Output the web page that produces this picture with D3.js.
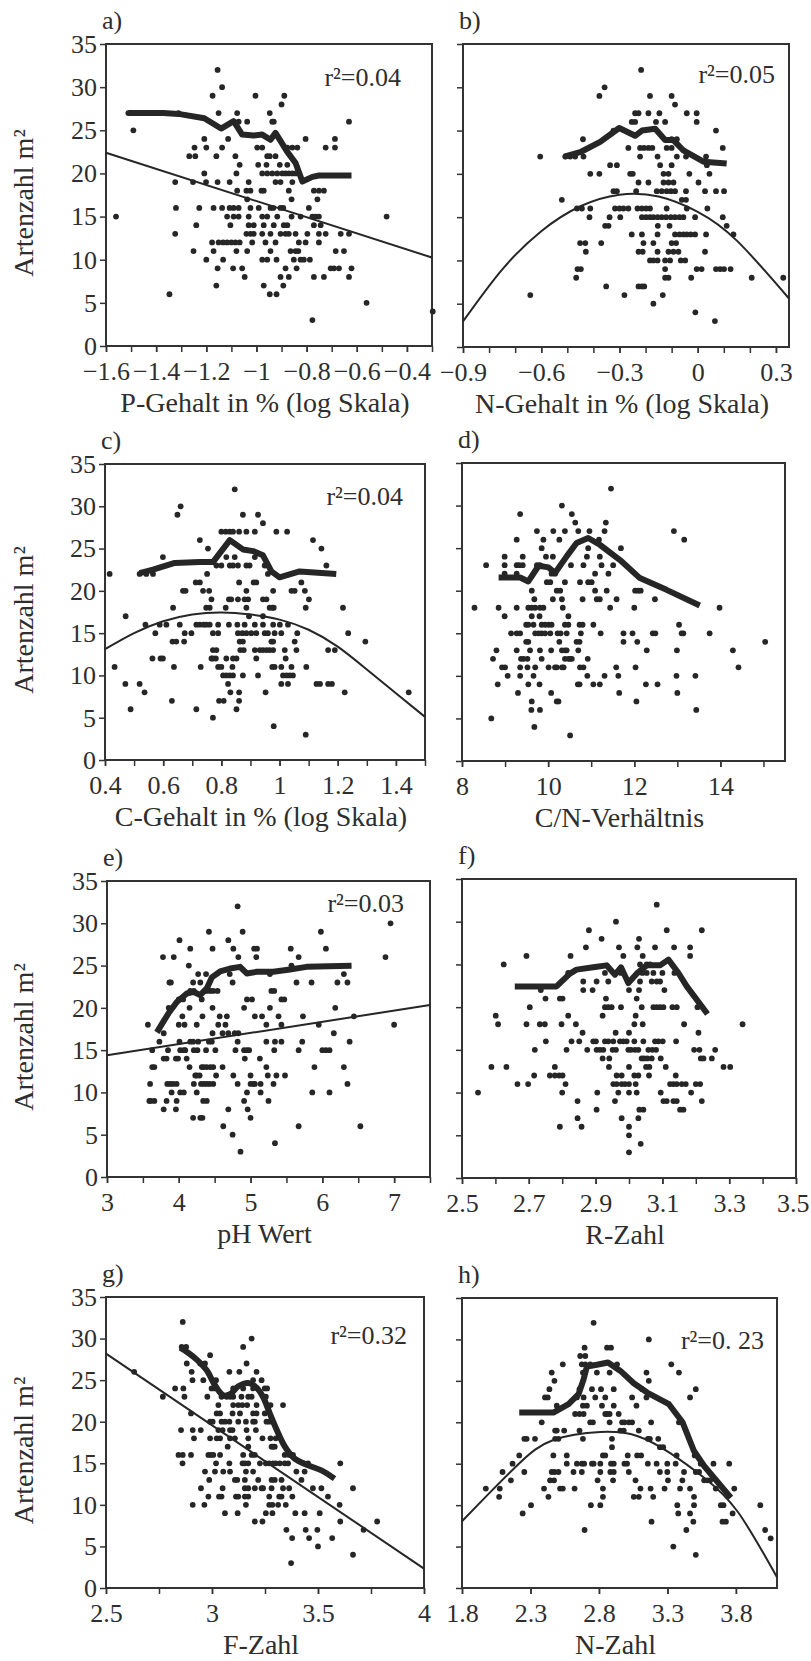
<!DOCTYPE html>
<html>
<head>
<meta charset="utf-8">
<script src="https://cdn.jsdelivr.net/npm/d3@7"></script>
<style>
  body { margin: 0; background: #fff; }
  svg { display: block; }
  text { font-family: "Liberation Serif", "DejaVu Serif", serif; fill: #2e2e2e; }
</style>
</head>
<body>
<svg id="chart" width="811" height="1661"></svg>
<script>
// each row: [Artenzahl, [x values]]
const aRows = [
  [32, [-1.155]], [30, [-1.137]], [29, [-1.175, -1.004, -0.889]], [28, [-0.9]],
  [27, [-1.511, -1.371, -1.311, -1.151, -1.077, -0.947]],
  [26, [-1.071, -1.037, -0.937, -0.931, -0.631]], [25, [-1.491]],
  [24, [-1.208, -1.113, -0.804, -0.687]],
  [23, [-1.247, -1.2, -1.137, -0.997, -0.977, -0.877, -0.857, -0.837, -0.724, -0.687]],
  [22, [-1.268, -1.244, -1.16, -1.084, -0.957, -0.947, -0.924]],
  [21, [-1.067, -0.993, -0.96, -0.907, -0.877]],
  [20, [-1.208, -1.08, -0.977, -0.957, -0.937, -0.917, -0.897, -0.884, -0.871, -0.857, -0.844]],
  [19, [-1.324, -1.253, -1.201, -1.155, -1.107, -1.031, -0.924, -0.904, -0.857]],
  [18, [-1.077, -1.04, -1.024, -0.98, -0.971, -0.871, -0.771, -0.751, -0.731]],
  [17, [-1.037, -0.86, -0.757]],
  [16, [-1.321, -1.228, -1.171, -1.137, -1.107, -1.091, -1.071, -1.024, -0.991, -0.944, -0.933, -0.904, -0.893, -0.791]],
  [15, [-1.56, -1.117, -1.091, -1.071, -1.031, -0.977, -0.957, -0.917, -0.86, -0.824, -0.777, -0.764, -0.751, -0.481]],
  [14, [-1.24, -1.104, -1.031, -1.011, -0.971, -0.931, -0.891, -0.877, -0.771, -0.744]],
  [13, [-1.324, -1.04, -1.024, -1.011, -0.977, -0.944, -0.904, -0.884, -0.871, -0.844, -0.797, -0.751, -0.724, -0.664, -0.631]],
  [12, [-1.177, -1.151, -1.133, -1.117, -1.1, -1.084, -1.067, -1.017, -0.964, -0.924, -0.831, -0.804, -0.751]],
  [11, [-1.251, -1.171, -1.08, -1.037, -0.944, -0.864, -0.844, -0.833, -0.684, -0.651]],
  [10, [-1.2, -1.133, -0.977, -0.957, -0.92, -0.851, -0.824, -0.811, -0.787]],
  [9, [-1.155, -1.093, -1.057, -0.884, -0.84, -0.704, -0.691, -0.671, -0.621]],
  [8, [-1.047, -0.904, -0.871, -0.771, -0.731, -0.631]],
  [7, [-1.16, -0.971, -0.893]], [6, [-1.347, -0.947, -0.92]],
  [5, [-0.561]], [4, [-0.297]], [3, [-0.777]]
]
const aSmooth = [[-1.511, 27], [-1.371, 27], [-1.311, 26.9], [-1.208, 26.4], [-1.141, 25.2], [-1.091, 26.06],
  [-1.057, 24.5], [-1.011, 24.4], [-0.977, 24.5], [-0.944, 23.9], [-0.924, 24.7], [-0.877, 22.5],
  [-0.844, 21.2], [-0.817, 19.06], [-0.777, 19.6], [-0.751, 19.76], [-0.621, 19.76]]
const aFit = [[-1.6, 22.4], [-0.3, 10.25]]

const bRows = [
  [32, [-0.217]], [30, [-0.357]], [29, [-0.377, -0.183, -0.1]], [28, [-0.087]],
  [27, [-0.24, -0.227, -0.189, -0.147, -0.042, -0.004]],
  [26, [-0.253, -0.24, -0.16, -0.125, -0.004]], [25, [-0.323, 0.07]], [24, [-0.44, -0.1, -0.08]],
  [23, [-0.266, -0.221, -0.206, -0.189, -0.174, -0.119, -0.1, 0.096]],
  [22, [-0.604, -0.508, -0.489, -0.47, -0.438, -0.221, -0.154, -0.08, -0.045, 0.032]],
  [21, [-0.336, -0.31, -0.144, -0.1, 0.035]],
  [20, [-0.412, -0.377, -0.259, -0.249, -0.131, -0.112, -0.032, 0.045]],
  [19, [-0.227, -0.189, -0.131, -0.112, -0.093, 0.003]],
  [18, [-0.323, -0.31, -0.236, -0.157, -0.138, -0.119, -0.103, -0.087, -0.045, 0.028, 0.07, 0.101]],
  [17, [-0.521, -0.061, -0.045]],
  [16, [-0.463, -0.444, -0.412, -0.317, -0.3, -0.285, -0.266, -0.231, -0.214, -0.198, -0.183, -0.119, -0.042, 0.037]],
  [15, [-0.415, -0.338, -0.297, -0.214, -0.198, -0.183, -0.17, -0.154, -0.138, -0.121, -0.103, -0.087, -0.07, -0.055, -0.01, 0.096]],
  [14, [-0.355, -0.342, -0.153, -0.108, 0.111]],
  [13, [-0.253, -0.214, -0.154, -0.087, -0.07, -0.055, -0.042, -0.027, -0.01, 0.032, 0.137]],
  [12, [-0.451, -0.431, -0.37, -0.208, -0.17, -0.1, -0.083]],
  [11, [-0.429, -0.227, -0.211, -0.154, -0.112, -0.093, -0.074, 0.028]],
  [10, [-0.183, -0.17, -0.154, -0.125, -0.106, -0.065, -0.048]],
  [9, [-0.461, -0.448, -0.125, -0.004, 0.015, 0.07, 0.086, 0.101, 0.126]],
  [8, [-0.466, -0.125, -0.112, -0.025, 0.207, 0.328]],
  [7, [-0.351, -0.227, -0.214, -0.205]], [6, [-0.642, -0.281, -0.134]],
  [5, [-0.17]], [4, [-0.009]], [3, [0.066]]
]
const bSmooth = [[-0.512, 22.0], [-0.451, 22.5], [-0.374, 23.7], [-0.301, 25.3], [-0.24, 24.4], [-0.214, 25.0],
  [-0.163, 25.2], [-0.125, 23.9], [-0.093, 23.9], [-0.055, 22.7], [0.022, 21.4], [0.111, 21.2]]
const bFit = [[-0.9, 2.95], [-0.75, 8.94], [-0.6, 13.38], [-0.45, 16.26], [-0.3, 17.6], [-0.15, 17.38],
  [0, 15.61], [0.15, 12.29], [0.35, 5.6]]

const cRows = [
  [32, [0.846]], [30, [0.66]], [29, [0.649, 0.874, 0.926]], [28, [0.943]],
  [27, [0.8, 0.815, 0.829, 0.84, 0.861, 0.886, 0.915, 0.989, 1.026]],
  [26, [0.726, 1.115]], [25, [0.754, 1.144]], [24, [0.599, 0.817, 0.846, 0.915]],
  [23, [0.783, 0.8, 0.829, 0.84, 0.857, 0.886, 0.897, 0.949, 1.161]],
  [22, [0.416, 0.519, 0.542, 0.565, 0.751, 0.96]],
  [21, [0.712, 0.726, 0.861, 0.911, 0.92, 1.075]],
  [20, [0.668, 0.677, 0.737, 0.758, 0.886, 0.978, 1.041, 1.052, 1.087]],
  [19, [0.766, 0.826, 0.834, 0.857, 0.88, 0.892, 0.943, 0.955, 1.101]],
  [18, [0.634, 0.748, 0.76, 0.815, 0.886, 0.966, 0.975, 0.98, 1.09, 1.218]],
  [17, [0.471, 0.895, 0.943]],
  [16, [0.539, 0.588, 0.611, 0.657, 0.714, 0.726, 0.739, 0.748, 0.76, 0.789, 0.826, 0.855, 0.88, 0.915, 0.943, 0.978, 1.001, 1.029]],
  [15, [0.573, 0.674, 0.697, 0.771, 0.789, 0.857, 0.872, 0.886, 0.903, 0.92, 0.949, 0.96, 0.983, 1.006, 1.061, 1.236]],
  [14, [0.632, 0.645, 0.672, 0.863, 0.874, 0.972, 0.978, 1.052, 1.295]],
  [13, [0.771, 0.783, 0.865, 0.877, 0.915, 0.932, 0.943, 0.955, 0.966, 0.978, 1.018, 1.058, 1.167, 1.19]],
  [12, [0.563, 0.591, 0.599, 0.766, 0.771, 0.781, 0.817, 0.84, 0.852, 0.92, 1.021]],
  [11, [0.433, 0.637, 0.729, 0.789, 0.8, 0.838, 0.975, 0.983, 1.006, 1.041, 1.092]],
  [10, [0.806, 0.817, 0.829, 0.84, 0.874, 0.926, 1.012, 1.024, 1.035, 1.046]],
  [9, [0.47, 0.519, 0.823, 1.006, 1.029, 1.127, 1.139, 1.167, 1.18]],
  [8, [0.536, 0.831, 0.861, 0.952, 1.224, 1.444]],
  [7, [0.63, 0.792, 0.808, 0.861]], [6, [0.488, 0.714, 0.852]],
  [5, [0.771]], [4, [0.98]], [3, [1.09]]
]
const cSmooth = [[0.519, 22.1], [0.565, 22.5], [0.64, 23.3], [0.726, 23.4], [0.771, 23.4], [0.829, 26.0],
  [0.874, 24.9], [0.909, 24.7], [0.943, 24.2], [0.972, 22.3], [1.0, 21.6], [1.069, 22.3], [1.195, 22.0]]
const cFit = [[0.4, 13.1], [0.5, 15.0], [0.6, 16.4], [0.7, 17.2], [0.8, 17.44], [0.9, 17.2], [1.0, 16.6],
  [1.1, 15.4], [1.2, 13.4], [1.3, 10.7], [1.4, 7.9], [1.5, 5.1]]

const dRows = [
  [32, [11.46]], [30, [10.32]], [29, [9.35, 10.55]], [28, [10.63, 11.34]],
  [27, [9.74, 10.12, 10.39, 10.7, 10.96, 11.31, 12.92]],
  [26, [9.27, 9.89, 10.26, 11.18, 13.16]], [25, [9.85, 10.93, 11.69]],
  [24, [8.99, 9.41, 9.95, 10.11, 10.9, 11.2]],
  [23, [8.56, 8.99, 9.27, 9.33, 9.41, 9.74, 9.81, 10.53, 10.82, 11.24, 11.51]],
  [22, [8.99, 9.27, 10.08, 10.16, 11.09, 11.4]],
  [21, [9.97, 10.05, 10.39, 10.74, 10.93, 11.01]],
  [20, [9.62, 10.2, 10.28, 11.09, 11.36, 12.02, 12.09, 12.15]],
  [19, [9.68, 10.11, 10.32, 10.8, 11.13, 11.2, 11.59, 12.48]],
  [18, [8.29, 8.85, 9.27, 9.54, 9.62, 9.7, 9.81, 9.89, 10.34, 11.44, 12.0, 13.98]],
  [17, [8.99, 9.62, 9.8, 10.47]],
  [16, [9.49, 9.54, 9.66, 9.85, 9.93, 10.01, 10.08, 10.39, 10.47, 10.73, 10.8, 11.05, 13.04]],
  [15, [9.14, 9.27, 9.35, 9.7, 9.78, 9.85, 9.93, 10.05, 10.22, 10.29, 10.43, 10.76, 11.22, 11.75, 11.96, 12.43, 12.49, 13.1, 13.14, 13.75]],
  [14, [9.49, 9.54, 10.26, 10.66, 10.73, 11.75, 12.07, 15.04]],
  [13, [8.8, 9.27, 9.58, 9.81, 10.07, 10.32, 10.39, 10.43, 10.7, 12.29, 12.99, 14.29]],
  [12, [8.72, 9.37, 9.43, 9.52, 9.85, 10.39, 10.47, 10.51, 10.55, 10.92]],
  [11, [8.93, 9.0, 9.35, 9.52, 9.7, 10.01, 10.16, 10.2, 10.32, 10.36, 10.74, 10.82, 11.58, 12.03, 14.42]],
  [10, [9.06, 9.35, 9.66, 10.91, 11.31, 11.63, 12.98, 13.42]],
  [9, [8.83, 9.54, 9.8, 10.69, 10.73, 11.05, 11.2, 12.27, 12.54]],
  [8, [9.3, 10.07, 11.65, 13.0]], [7, [9.62, 10.2, 10.24, 12.05]], [6, [9.61, 9.81, 13.44]],
  [5, [8.68]], [4, [9.68]], [3, [10.51]]
]
const dSmooth = [[8.85, 21.56], [9.35, 21.56], [9.54, 21.09], [9.78, 22.93], [10.01, 22.74], [10.16, 22.07],
  [10.43, 24.03], [10.66, 25.6], [10.93, 26.19], [11.2, 25.4], [11.67, 23.6], [12.13, 21.48], [12.75, 20.1], [13.52, 18.27]]

const eRows = [
  [32, [4.82]], [30, [6.95]], [29, [4.42, 4.89, 5.98]], [28, [4.01, 4.69]],
  [27, [4.16, 4.47, 4.76, 5.05, 5.09, 5.56, 6.05]],
  [26, [3.78, 3.93, 4.83, 5.08, 5.67, 6.88]], [25, [4.14, 5.57]],
  [24, [4.27, 4.38, 4.71, 5.27, 6.3]],
  [23, [3.87, 3.89, 4.2, 4.3, 4.75, 5.64, 5.85, 6.21, 6.35]],
  [22, [4.16, 4.21, 4.39, 4.44, 4.48, 4.54, 5.29, 5.33]],
  [21, [4.0, 4.06, 4.32, 4.95, 5.02, 5.43, 5.47]],
  [20, [3.86, 4.15, 4.47, 4.91, 5.27, 6.18]],
  [19, [4.05, 4.33, 4.57, 4.67, 5.06, 5.16, 5.39, 5.73, 6.44]],
  [18, [3.57, 4.0, 4.08, 4.25, 4.55, 4.65, 5.22, 5.43, 5.95, 7.0]],
  [17, [3.79, 4.47, 4.61, 4.69, 4.78, 4.83, 6.16]],
  [16, [3.73, 4.01, 4.16, 4.2, 4.27, 4.42, 4.46, 4.82, 5.22, 5.34, 5.43, 5.72, 6.38]],
  [15, [3.63, 3.85, 4.02, 4.07, 4.09, 4.21, 4.26, 4.38, 4.51, 4.79, 4.91, 4.95, 4.98, 5.33, 5.67, 6.0, 6.05, 6.1]],
  [14, [3.79, 3.83, 3.96, 3.99, 4.11, 4.92, 5.13]],
  [13, [3.63, 3.66, 4.15, 4.32, 4.35, 4.39, 4.44, 4.48, 4.61, 5.22, 5.89, 6.3]],
  [12, [4.23, 4.25, 4.29, 4.52, 4.76, 5.0, 5.24, 5.36, 5.48]],
  [11, [3.6, 3.84, 3.88, 3.92, 3.97, 4.21, 4.31, 4.35, 4.39, 4.43, 4.48, 4.82, 5.0, 5.04, 5.06, 5.14, 5.32, 6.35]],
  [10, [3.9, 4.02, 4.07, 4.25, 4.95, 5.14, 5.86, 6.1]],
  [9, [3.59, 3.61, 3.66, 3.83, 3.97, 4.34, 4.39, 4.91, 5.25]],
  [8, [3.79, 3.96, 4.69, 4.96]], [7, [4.2, 4.3, 4.33, 5.0]], [6, [4.62, 5.67, 6.53]],
  [5, [4.75]], [4, [5.34]], [3, [4.86]]
]
const eSmooth = [[3.695, 17.1], [3.787, 18.4], [3.857, 19.35], [3.973, 20.7], [4.112, 21.7], [4.205, 21.9],
  [4.298, 21.5], [4.39, 22.3], [4.46, 23.6], [4.576, 24.3], [4.715, 24.65], [4.854, 24.85], [4.947, 24.07],
  [5.086, 24.26], [5.317, 24.26], [5.549, 24.54], [5.78, 24.85], [6.407, 24.97]]
const eFit = [[3, 14.4], [7.5, 20.33]]

const fRows = [
  [32, [3.083]], [30, [2.961]], [29, [2.88, 3.113, 3.218]], [28, [2.918, 3.03]],
  [27, [2.871, 2.97, 3.025, 3.078, 3.135, 3.183]],
  [26, [2.693, 2.825, 2.983, 3.041, 3.183]], [25, [2.625, 3.033, 3.053, 3.063]],
  [24, [2.818, 2.928, 2.976, 3.04, 3.053, 3.073, 3.1, 3.136]],
  [23, [2.863, 2.903, 2.938, 2.998, 3.033, 3.068, 3.083, 3.093]],
  [22, [2.736, 2.863, 2.891, 3.0, 3.03, 3.106]],
  [21, [2.75, 2.793, 2.801, 2.931, 3.023]],
  [20, [2.703, 2.928, 2.938, 2.948, 2.976, 3.038, 3.073, 3.083, 3.093, 3.103, 3.13, 3.143, 3.205]],
  [19, [2.601, 2.818, 2.921, 3.02]],
  [18, [2.608, 2.693, 2.733, 2.748, 2.798, 2.841, 3.016, 3.041, 3.165, 3.34]],
  [17, [2.861, 2.96, 3.0, 3.208]],
  [16, [2.751, 2.828, 2.851, 2.893, 2.901, 2.928, 2.938, 2.953, 2.973, 2.983, 2.993, 3.016, 3.043, 3.078, 3.088, 3.101, 3.141]],
  [15, [2.718, 2.813, 2.875, 2.903, 2.913, 2.923, 2.951, 2.961, 2.998, 3.006, 3.018, 3.028, 3.058, 3.07, 3.081, 3.195, 3.211, 3.258]],
  [14, [2.921, 2.941, 3.038, 3.045, 3.055, 3.068, 3.095, 3.215, 3.223, 3.248]],
  [13, [2.588, 2.633, 2.778, 2.94, 3.0, 3.051, 3.061, 3.11, 3.283, 3.303]],
  [12, [2.716, 2.763, 2.778, 2.791, 2.801, 2.963, 2.978, 3.016, 3.028, 3.06, 3.14]],
  [11, [2.666, 2.698, 2.81, 2.953, 2.963, 2.978, 2.988, 3.0, 3.02, 3.123, 3.133, 3.143, 3.158, 3.17, 3.2, 3.213]],
  [10, [2.548, 2.8, 2.905, 2.968, 3.0, 3.023, 3.095, 3.186]],
  [9, [2.846, 2.958, 3.103, 3.113, 3.133, 3.143, 3.218]],
  [8, [2.903, 3.031, 3.043, 3.153, 3.163]], [7, [2.846, 2.978, 3.028]], [6, [2.793, 2.858, 3.0]],
  [5, [3.0]], [4, [3.035]], [3, [3.0]]
]
const fSmooth = [[2.658, 22.43], [2.783, 22.43], [2.823, 23.92], [2.843, 24.39], [2.893, 24.66], [2.933, 24.89],
  [2.958, 23.8], [2.976, 24.66], [2.998, 22.82], [3.023, 23.92], [3.053, 24.89], [3.093, 24.89], [3.118, 25.56],
  [3.148, 24.0], [3.173, 22.43], [3.235, 19.2]]

const gRows = [
  [32, [2.862]], [30, [3.187]], [29, [2.857, 2.878, 3.147]], [28, [2.991]],
  [27, [2.881, 2.944, 2.967, 3.163]], [26, [2.633, 2.904, 3.082, 3.129, 3.21]],
  [25, [2.908, 2.959, 3.003, 3.019, 3.194, 3.234]],
  [24, [2.826, 2.865, 2.998, 3.011, 3.1, 3.147, 3.194, 3.249, 3.26]],
  [23, [2.768, 2.87, 2.978, 3.045, 3.069, 3.085, 3.1, 3.139, 3.171, 3.187, 3.254]],
  [22, [3.03, 3.1, 3.124, 3.143, 3.166, 3.21, 3.276, 3.335]],
  [21, [2.901, 3.022, 3.038, 3.097, 3.132, 3.194, 3.21, 3.249]],
  [20, [2.991, 3.003, 3.045, 3.061, 3.082, 3.124, 3.16, 3.194, 3.202, 3.257, 3.27, 3.285]],
  [19, [2.854, 2.909, 2.947, 3.03, 3.05, 3.085, 3.097, 3.163, 3.207]],
  [18, [2.915, 2.991, 3.022, 3.038, 3.085, 3.108, 3.171, 3.238, 3.276, 3.301]],
  [17, [3.074, 3.171, 3.281, 3.288, 3.296]],
  [16, [2.842, 2.862, 2.901, 2.983, 2.994, 3.006, 3.038, 3.147, 3.187, 3.202, 3.343, 3.364, 3.382]],
  [15, [2.861, 3.019, 3.082, 3.144, 3.155, 3.171, 3.226, 3.254, 3.27, 3.288, 3.301, 3.32, 3.343, 3.359, 3.433, 3.453, 3.605]],
  [14, [2.967, 3.014, 3.053, 3.085, 3.16, 3.194, 3.398, 3.437]],
  [13, [2.987, 3.108, 3.119, 3.155, 3.218, 3.281, 3.296, 3.328, 3.422]],
  [12, [2.948, 3.05, 3.155, 3.171, 3.202, 3.234, 3.241, 3.281, 3.335, 3.364, 3.476, 3.516, 3.665]],
  [11, [2.983, 3.033, 3.045, 3.113, 3.124, 3.155, 3.171, 3.27, 3.317, 3.328, 3.379, 3.547]],
  [10, [2.909, 2.964, 3.16, 3.27, 3.285, 3.312, 3.348, 3.602]],
  [9, [3.061, 3.121, 3.254, 3.285, 3.393, 3.437, 3.508]],
  [8, [3.202, 3.238, 3.605, 3.779]], [7, [3.351, 3.442, 3.497, 3.715]], [6, [3.378, 3.458, 3.567]],
  [5, [3.5]], [4, [3.665]], [3, [3.373]]
]
const gSmooth = [[2.85, 28.9], [2.889, 28.27], [2.928, 27.47], [2.975, 26.18], [3.014, 24.38], [3.053, 23.18],
  [3.085, 23.3], [3.124, 24.26], [3.171, 24.66], [3.21, 24.1], [3.241, 22.97], [3.273, 20.97], [3.304, 19.09],
  [3.343, 17.04], [3.39, 15.56], [3.453, 14.76], [3.516, 14.15], [3.578, 13.15]]
const gFit = [[2.5, 28.19], [4, 2.33]]

const hRows = [
  [32, [2.761]], [30, [3.164]], [29, [2.695, 2.859, 2.888]], [28, [2.663, 2.7]],
  [27, [2.536, 2.675, 2.7, 2.736, 2.932, 3.328]],
  [26, [2.455, 2.683, 2.785, 2.878, 3.147, 3.384]], [25, [2.475, 3.164]],
  [24, [2.438, 2.658, 2.749, 2.815, 2.908, 3.115, 3.507]],
  [23, [2.406, 2.426, 2.639, 2.688, 2.773, 2.846, 3.042, 3.147, 3.465]],
  [22, [2.492, 2.683, 2.712, 2.822, 2.908, 3.074]],
  [21, [2.626, 2.658, 2.688, 2.846, 2.859, 2.878, 2.944]],
  [20, [2.382, 2.736, 2.756, 2.878, 2.969, 2.986, 3.018, 3.042, 3.181, 3.384]],
  [19, [2.48, 2.492, 2.546, 2.658, 2.956, 2.981, 3.091]],
  [18, [2.255, 2.272, 2.333, 2.48, 2.504, 2.683, 2.895, 3.157, 3.172, 3.233]],
  [17, [2.895, 3.245, 3.269]],
  [16, [2.218, 2.467, 2.565, 2.829, 2.846, 3.01, 3.079, 3.108, 3.367, 3.499]],
  [15, [2.169, 2.565, 2.639, 2.675, 2.692, 2.749, 2.761, 2.81, 2.888, 2.908, 2.986, 3.005, 3.157, 3.221, 3.299, 3.36, 3.543, 3.636, 3.751]],
  [14, [2.096, 2.255, 2.455, 2.475, 2.504, 2.614, 2.675, 2.81, 2.883, 2.908, 3.018, 3.245, 3.299, 3.421, 3.507, 3.531]],
  [13, [2.157, 2.443, 2.472, 2.79, 2.903, 3.067, 3.304, 3.409, 3.568, 3.592, 3.612]],
  [12, [1.974, 2.076, 2.399, 2.516, 2.536, 2.622, 2.829, 3.103, 3.177, 3.279, 3.392, 3.465, 3.653, 3.788]],
  [11, [2.071, 2.431, 2.829, 3.054, 3.091, 3.196, 3.494]],
  [10, [2.304, 2.741, 2.81, 3.372, 3.494, 3.69, 3.709, 3.978]],
  [9, [2.243, 3.379, 3.465, 3.776]], [8, [3.184, 3.489, 3.702, 3.727]],
  [7, [2.695, 3.438, 4.013]], [6, [4.054]], [5, [3.343]], [4, [3.507]]
]
const hSmooth = [[2.218, 21.17], [2.467, 21.17], [2.578, 22.18], [2.651, 23.39], [2.688, 25.2], [2.712, 26.73],
  [2.785, 26.94], [2.866, 27.22], [2.957, 26.2], [3.054, 24.72], [3.152, 23.59], [3.311, 22.18], [3.409, 20.04],
  [3.494, 16.53], [3.568, 14.72], [3.763, 10.89]]
const hFit = [[1.8, 8.06], [1.978, 11.09], [2.223, 15.12], [2.467, 17.86], [2.81, 18.83], [3.079, 18.35],
  [3.323, 16.25], [3.568, 13.31], [3.812, 9.23], [4.1, 1.3]]

// tick labels
const yTicks = [0, 5, 10, 15, 20, 25, 30, 35]
const aTicks = [-1.6, -1.4, -1.2, -1, -0.8, -0.6, -0.4]
const bTicks = [-0.9, -0.6, -0.3, 0, 0.3]
const cTicks = [0.4, 0.6, 0.8, 1, 1.2, 1.4]
const dTicks = [8, 10, 12, 14]
const eTicks = [3, 4, 5, 6, 7]
const fTicks = [2.5, 2.7, 2.9, 3.1, 3.3, 3.5]
const gTicks = [2.5, 3, 3.5, 4]
const hTicks = [1.8, 2.3, 2.8, 3.3, 3.8]

const panels = [
  {label: 'a)', rows: aRows, smooth: aSmooth, fit: aFit, r2: '0.04', dom: [-1.6, -0.3], ticks: aTicks,
    minor: d3.range(-1.6, -0.25, 0.1), box: [106, 44, 432, 346], left: true, title: 'P-Gehalt in % (log Skala)', r2pos: [401, 86]},
  {label: 'b)', rows: bRows, smooth: bSmooth, fit: bFit, r2: '0.05', dom: [-0.9, 0.35], ticks: bTicks,
    minor: d3.range(-0.9, 0.36, 0.1), box: [463, 44, 789, 347], left: false, title: 'N-Gehalt in % (log Skala)', r2pos: [775, 83]},
  {label: 'c)', rows: cRows, smooth: cSmooth, fit: cFit, r2: '0.04', dom: [0.4, 1.5], ticks: cTicks,
    minor: d3.range(0.4, 1.55, 0.1), box: [105, 464, 425, 760], left: true, title: 'C-Gehalt in % (log Skala)', r2pos: [403, 505]},
  {label: 'd)', rows: dRows, smooth: dSmooth, fit: null, r2: null, dom: [8, 15.5], ticks: dTicks,
    minor: d3.range(8, 15.5, 1), box: [462, 463, 785, 761], left: false, title: 'C/N-Verhältnis'},
  {label: 'e)', rows: eRows, smooth: eSmooth, fit: eFit, r2: '0.03', dom: [3, 7.5], ticks: eTicks,
    minor: d3.range(3, 7.55, 0.5), box: [107, 881, 430, 1177], left: true, title: 'pH Wert', r2pos: [404, 912]},
  {label: 'f)', rows: fRows, smooth: fSmooth, fit: null, r2: null, dom: [2.5, 3.5], ticks: fTicks,
    minor: d3.range(2.5, 3.55, 0.1), box: [462, 879, 796, 1178], left: false, title: 'R-Zahl'},
  {label: 'g)', rows: gRows, smooth: gSmooth, fit: gFit, r2: '0.32', dom: [2.5, 4], ticks: gTicks,
    minor: d3.range(2.5, 4.05, 0.25), box: [106, 1297, 424, 1588], left: true, title: 'F-Zahl', r2pos: [407, 1344], curved: true},
  {label: 'h)', rows: hRows, smooth: hSmooth, fit: hFit, r2: '0. 23', dom: [1.8, 4.1], ticks: hTicks,
    minor: hTicks, box: [462, 1298, 777, 1588], left: false, title: 'N-Zahl', r2pos: [764, 1349]}
]

const ink = '#262626'
const serif = '"Liberation Serif", "DejaVu Serif", serif'
const svg = d3.select('#chart')
const fmt = d3.format('~g')

panels.forEach(p => {
  const [x0, y0, x1, y1] = p.box
  const x = d3.scaleLinear().domain(p.dom).range([x0, x1])
  const y = d3.scaleLinear().domain([0, 35]).range([y1, y0])
  const g = svg.append('g').attr('font-family', serif)

  const pts = []
  p.rows.forEach(r => r[1].forEach(v => pts.push({x: v, y: r[0]})))

  // axes
  const ya = g.append('g').attr('transform', `translate(${x0},0)`)
    .call(d3.axisLeft(y).tickValues(yTicks).tickSize(6).tickPadding(3)
      .tickFormat(p.left ? d3.format('d') : () => ''))
  const xminor = g.append('g').attr('transform', `translate(0,${y1})`)
    .call(d3.axisBottom(x).tickValues(p.minor).tickSize(6).tickFormat(() => ''))
  const xa = g.append('g').attr('transform', `translate(0,${y1})`)
    .call(d3.axisBottom(x).tickValues(p.ticks).tickSize(6).tickPadding(10).tickFormat(fmt))
  ;[ya, xminor, xa].forEach(a => {
    a.attr('font-size', 26).attr('font-family', serif)
    a.select('.domain').remove()
    a.selectAll('line').attr('stroke', '#333').attr('stroke-width', 1.5)
  })
  // keep a label that sits on the page edge inside the page
  xa.selectAll('.tick text').filter(d => x(d) > 790).attr('text-anchor', 'end').attr('dx', 13)

  g.append('rect')
    .attr('x', x0).attr('y', y0).attr('width', x1 - x0).attr('height', y1 - y0)
    .attr('fill', 'none').attr('stroke', '#333').attr('stroke-width', 2)

  g.append('g').selectAll('circle').data(pts).enter().append('circle')
    .attr('cx', d => x(d.x)).attr('cy', d => y(d.y)).attr('r', 2.9).attr('fill', ink)

  if (p.fit) {
    g.append('path').datum(p.fit)
      .attr('d', d3.line().x(d => x(d[0])).y(d => y(d[1])).curve(d3.curveNatural))
      .attr('fill', 'none').attr('stroke', ink).attr('stroke-width', 2)
  }

  g.append('path').datum(p.smooth)
    .attr('d', d3.line().x(d => x(d[0])).y(d => y(d[1])).curve(p.curved ? d3.curveCatmullRom : d3.curveLinear))
    .attr('fill', 'none').attr('stroke', ink).attr('stroke-width', 6)
    .attr('stroke-linejoin', 'round').attr('stroke-linecap', 'butt')

  if (p.r2) {
    g.append('text').attr('x', p.r2pos[0]).attr('y', p.r2pos[1])
      .attr('text-anchor', 'end').attr('font-size', 26)
      .text('r²=' + p.r2)
  }

  g.append('text').attr('x', x0 - 4).attr('y', y0 - 15).attr('font-size', 26).text(p.label)

  g.append('text').attr('x', (x0 + x1) / 2 - 4).attr('y', y1 + 66)
    .attr('text-anchor', 'middle').attr('font-size', 28).text(p.title)

  if (p.left) {
    const cy = (y0 + y1) / 2 + 8
    g.append('text').attr('transform', `translate(33,${cy}) rotate(-90)`)
      .attr('text-anchor', 'middle').attr('font-size', 28).text('Artenzahl m²')
  }
})
</script>
</body>
</html>
